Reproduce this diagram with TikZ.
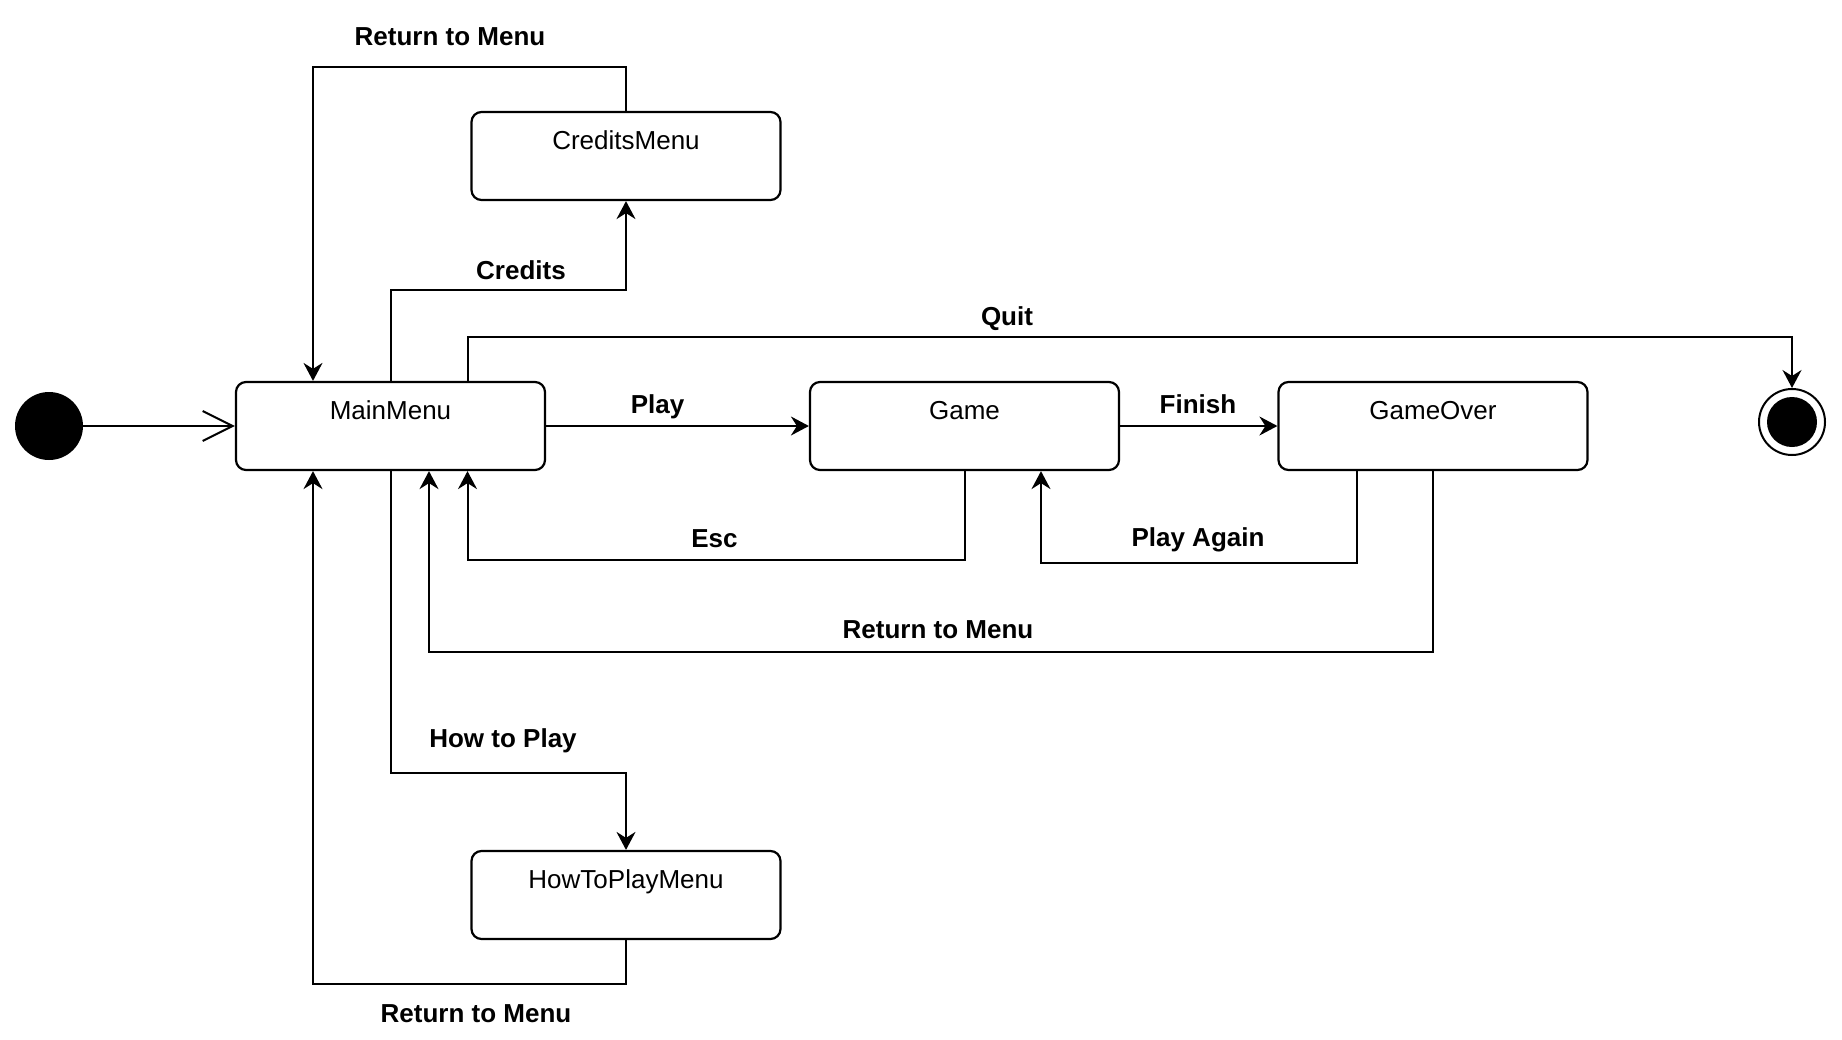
\documentclass[tikz,border=0pt]{standalone}
\usepackage{fontspec}
\setmainfont{Liberation Sans}
\usetikzlibrary{arrows.meta,calc}
\begin{document}
\begin{tikzpicture}[x=1pt,y=-1pt,
  statebox/.style={draw, line width=2.2pt, rounded corners=10pt, fill=white,
    minimum width=309pt, minimum height=88pt, inner sep=0pt,
    text height=20pt, text depth=33pt,
    font=\fontsize{26}{31}\selectfont},
  arr/.style={line width=2pt, -{Stealth[length=18pt,width=19pt,inset=6pt]}},
  openarr/.style={line width=2pt, -{Straight Barb[length=30pt,width=30pt,line width=2pt]}},
  lbl/.style={anchor=base, inner sep=0pt, font=\fontsize{26}{31}\selectfont\bfseries}
]
\useasboundingbox (0,0) rectangle (1842,1039);
\fill[white] (0,0) rectangle (1842,1039);

% states
\node[circle, fill=black, minimum size=68pt, inner sep=0pt] (init) at (49,426) {};
\node[statebox] (main) at (390.5,426) {MainMenu};
\node[statebox] (game) at (964.5,426) {Game};
\node[statebox] (over) at (1433,426) {GameOver};
\node[statebox] (cred) at (626,156) {CreditsMenu};
\node[statebox] (htp) at (626,895) {HowToPlayMenu};
\node[circle, draw, line width=2pt, fill=white, minimum size=66pt, inner sep=0pt] (final) at (1792,422) {};
\fill[black] (final.center) circle (25pt);

% transitions
\draw[openarr] (init) -- (main);
\draw[arr] (main) -- (game);
\draw[arr] (game) -- (over);
\draw[arr] (main.north) -- ++(0,-91) -| (cred.south);
\draw[arr] (cred.north) -- ++(0,-44) -| ([xshift=-77.5pt]main.north);
\draw[arr] ([xshift=77pt]main.north) -- ++(0,-44) -| (final.north);
\draw[arr] (game.south) -- ++(0,89) -| ([xshift=77pt]main.south);
\draw[arr] ([xshift=-76pt]over.south) -- ++(0,92) -| ([xshift=76.5pt]game.south);
\draw[arr] (over.south) -- ++(0,181) -| ([xshift=38.5pt]main.south);
\draw[arr] (main.south) -- ++(0,302) -| (htp.north);
\draw[arr] (htp.south) -- ++(0,44) -| ([xshift=-77.5pt]main.south);

% labels
\node[lbl] (l1) at (450,45) {Return to Menu};
\node[lbl] (l2) at (521,279) {Credits};
\node[lbl] (l3) at (1007,325) {Quit};
\node[lbl] (l4) at (657.5,413) {Play};
\node[lbl] (l5) at (1198,413) {Finish};
\node[lbl] (l6) at (714.5,547) {Esc};
\node[lbl] (l7) at (1198,546) {Play Again};
\node[lbl] (l8) at (938,638) {Return to Menu};
\node[lbl] (l9) at (503,747) {How to Play};
\node[lbl] (l10) at (476,1022) {Return to Menu};
\end{tikzpicture}
\end{document}
